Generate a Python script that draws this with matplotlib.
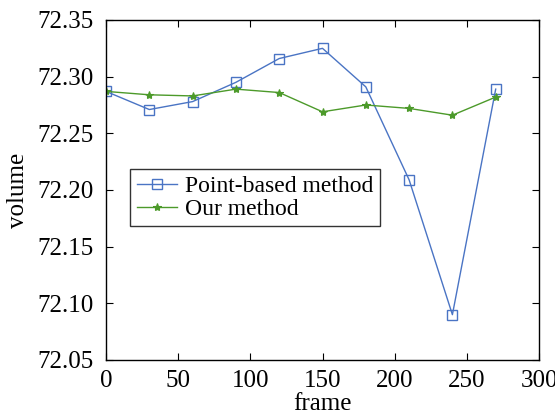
import matplotlib
matplotlib.use("Agg")
import matplotlib.pyplot as plt

frames = [0, 30, 60, 90, 120, 150, 180, 210, 240, 270]
point_based = [72.287, 72.271, 72.278, 72.295, 72.316, 72.325, 72.291, 72.209, 72.090, 72.289]
our_method = [72.287, 72.284, 72.283, 72.289, 72.286, 72.269, 72.275, 72.272, 72.266, 72.282]

xticks = [0, 50, 100, 150, 200, 250, 300]
yticks = [72.05, 72.10, 72.15, 72.20, 72.25, 72.30, 72.35]

plt.rcParams['font.family'] = ['Liberation Serif', 'DejaVu Serif']

fig = plt.figure(figsize=(5.55, 4.16), dpi=100)
ax = fig.add_axes([106 / 555, 1 - 360 / 416, 433 / 555, 340 / 416])

ax.plot(frames, point_based, '-s', color='#4a74c4', linewidth=1, markersize=7,
        markerfacecolor='none', markeredgewidth=1, label='Point-based method')
ax.plot(frames, our_method, '-*', color='#4c9a2a', linewidth=1, markersize=6,
        markeredgewidth=0.8, label='Our method')

ax.set_xlim(0, 300)
ax.set_ylim(72.05, 72.35)
ax.set_xticks(xticks)
ax.set_yticks(yticks)
ax.set_yticklabels([f'{v:.2f}' for v in yticks])
ax.tick_params(direction='in', top=True, right=True, labelsize=18, length=5)
ax.tick_params(axis='y', pad=9)
ax.tick_params(axis='x', pad=7)
for s in ax.spines.values():
    s.set_linewidth(1)

ax.set_xlabel('frame', fontsize=18, labelpad=1)
ax.set_ylabel('volume', fontsize=18, labelpad=6)

leg = ax.legend(loc='upper left', bbox_to_anchor=(24 / 433, 1 - 149 / 340), fontsize=17,
                frameon=True, fancybox=False, edgecolor='black', borderpad=0.28,
                handlelength=1.7, labelspacing=0.05, handletextpad=0.35, borderaxespad=0)
leg.get_frame().set_linewidth(1)

fig.savefig('out.png', dpi=100)
